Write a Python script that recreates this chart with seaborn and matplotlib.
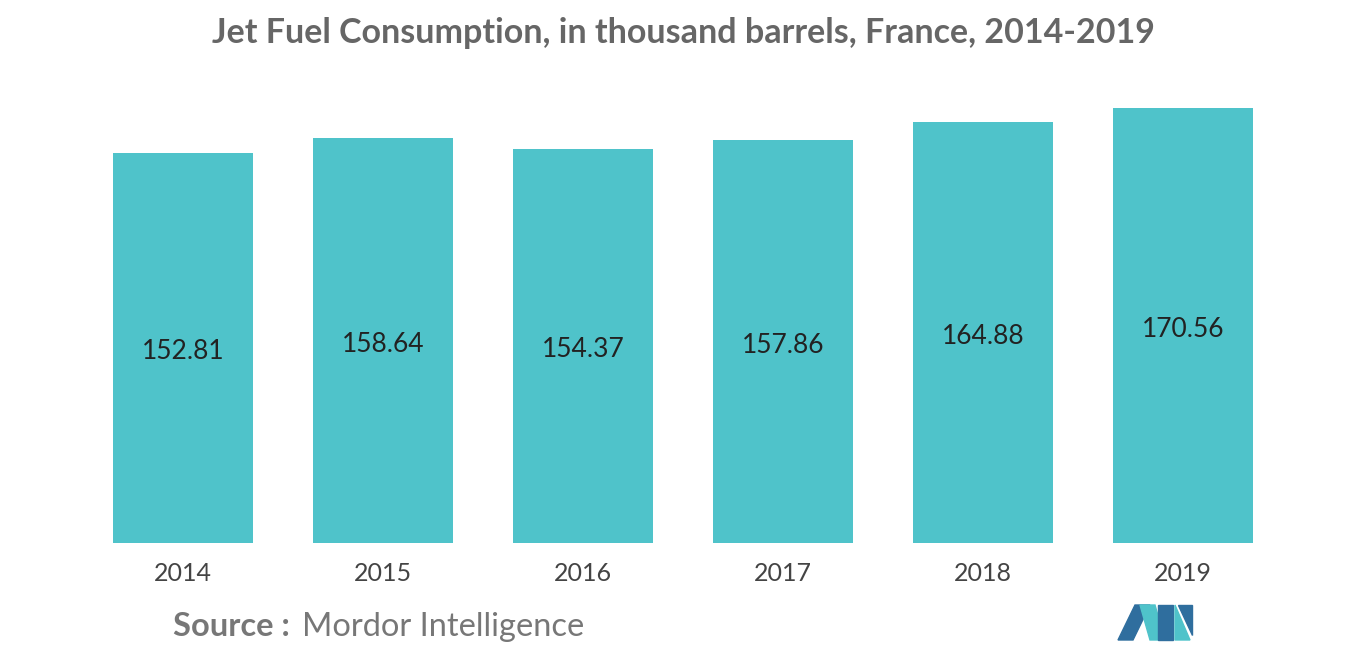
import matplotlib
matplotlib.use("Agg")
import matplotlib.pyplot as plt
import seaborn as sns
import pandas as pd
from matplotlib.patches import Polygon

years = ["2014", "2015", "2016", "2017", "2018", "2019"]
values = [152.81, 158.64, 154.37, 157.86, 164.88, 170.56]
df = pd.DataFrame({"year": years, "value": values})

fig = plt.figure(figsize=(13.66, 6.55), dpi=100)
ax = fig.add_axes([83/1366, 1-543/655, 1200/1366, 435/655])
sns.barplot(data=df, x="year", y="value", color="#4FC3CA", width=0.7, saturation=1, ax=ax)
ax.set_xlim(-0.5, 5.5)
ax.set_ylim(0, max(values))
for i, v in enumerate(values):
    ax.text(i, v/2 - 1.5, f"{v:.2f}", ha="center", va="center", fontsize=19, color="#222222", family="Lato")
for s in ax.spines.values():
    s.set_visible(False)
ax.set_yticks([])
ax.set_xlabel(""); ax.set_ylabel("")
ax.tick_params(axis="x", length=0, labelsize=18, labelcolor="#444444", pad=14)
for t in ax.get_xticklabels():
    t.set_family("Lato")

fig.text(0.5, 1-33/655, "Jet Fuel Consumption, in thousand barrels, France, 2014-2019",
         ha="center", va="center", fontsize=24.5, color="#666666", family="Lato", weight="bold")
fig.text(173/1366, 1-627/655, "Source :", ha="left", va="center", fontsize=23.5,
         color="#777777", family="Lato", weight="bold")
fig.text(302/1366, 1-627/655, "Mordor Intelligence", ha="left", va="center", fontsize=23.5,
         color="#777777", family="Lato")

def P(pts, c):
    fig.patches.append(Polygon([(x/1366, 1-y/655) for x, y in pts], closed=True,
                               transform=fig.transFigure, color=c))
P([(1118, 640), (1135, 605), (1150, 605), (1133, 640)], "#2F6E9E")
P([(1140, 605), (1155, 605), (1165, 640), (1150, 640)], "#4FC3CA")
P([(1158, 605), (1173, 605), (1173, 640), (1158, 640)], "#2F6E9E")
P([(1175, 605), (1190, 640), (1175, 640)], "#4FC3CA")
P([(1178, 605), (1192, 605), (1192, 635)], "#2F6E9E")
fig.savefig("out.png", dpi=100)
